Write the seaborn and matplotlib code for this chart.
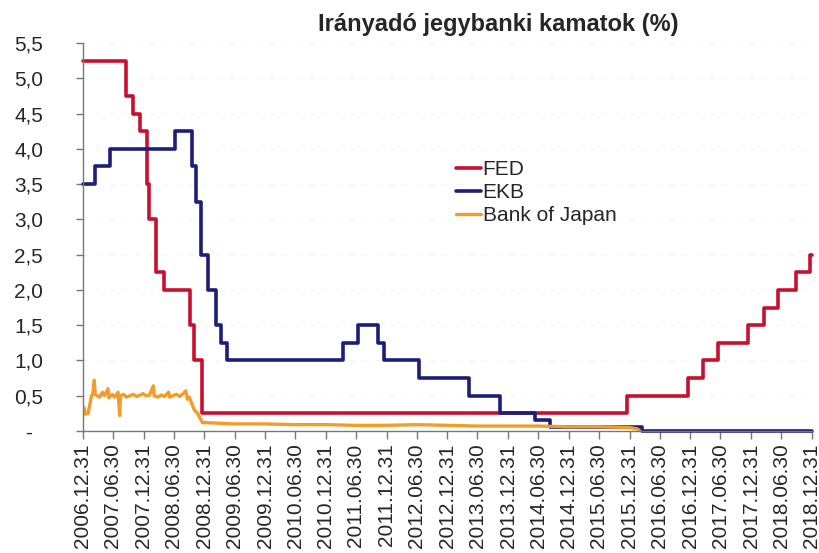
import numpy as np
import pandas as pd
import seaborn as sns
import matplotlib.pyplot as plt
import matplotlib.dates as mdates

sns.set_theme(style="white")
plt.rcParams['font.family'] = ['Liberation Sans', 'DejaVu Sans']

# FED policy rate (upper values), step changes
fed_dates = ["2006-12-31", "2007-09-18", "2007-10-31", "2007-12-11", "2008-01-22",
             "2008-01-30", "2008-03-18", "2008-04-30", "2008-10-08", "2008-10-29",
             "2008-12-16", "2015-12-16", "2016-12-14", "2017-03-15", "2017-06-14",
             "2017-12-13", "2018-03-21", "2018-06-13", "2018-09-26", "2018-12-19",
             "2018-12-31"]
fed_vals = [5.25, 4.75, 4.5, 4.25, 3.5, 3.0, 2.25, 2.0, 1.5, 1.0,
            0.25, 0.5, 0.75, 1.0, 1.25, 1.5, 1.75, 2.0, 2.25, 2.5, 2.5]

# EKB main refinancing rate
ekb_dates = ["2006-12-31", "2007-03-14", "2007-06-13", "2008-07-09", "2008-10-15",
             "2008-11-12", "2008-12-10", "2009-01-21", "2009-03-11", "2009-04-08",
             "2009-05-13", "2011-04-13", "2011-07-13", "2011-11-09", "2011-12-14",
             "2012-07-11", "2013-05-08", "2013-11-13", "2014-06-11", "2014-09-10",
             "2016-03-16", "2018-12-31"]
ekb_vals = [3.5, 3.75, 4.0, 4.25, 3.75, 3.25, 2.5, 2.0, 1.5, 1.25,
            1.0, 1.25, 1.5, 1.25, 1.0, 0.75, 0.5, 0.25, 0.15, 0.05, 0.0, 0.0]

# Bank of Japan overnight call rate
boj_dates = ["2006-12-31", "2007-01-08", "2007-01-15", "2007-02-01", "2007-02-21",
             "2007-03-01", "2007-03-10", "2007-03-15", "2007-04-10", "2007-04-28",
             "2007-05-10", "2007-05-31", "2007-06-05", "2007-06-25", "2007-07-10",
             "2007-07-31", "2007-08-10", "2007-08-14", "2007-09-01", "2007-09-20",
             "2007-10-10", "2007-10-30", "2007-11-20", "2007-12-10", "2007-12-28",
             "2008-01-15", "2008-02-05", "2008-02-28", "2008-03-04", "2008-03-25",
             "2008-04-15", "2008-05-05", "2008-05-30", "2008-06-05", "2008-06-25",
             "2008-07-15", "2008-08-05", "2008-08-25", "2008-09-10", "2008-09-20",
             "2008-10-01", "2008-10-31", "2008-11-20", "2008-12-19", "2009-03-31",
             "2009-06-30", "2009-12-31", "2010-06-30", "2010-12-31", "2011-06-30",
             "2011-12-31", "2012-06-30", "2012-12-31", "2013-06-30", "2013-12-31",
             "2014-06-30", "2014-12-31", "2015-06-30", "2015-12-31", "2016-02-15",
             "2016-03-01"]
boj_vals = [0.23, 0.33, 0.24, 0.25, 0.50,
            0.52, 0.72, 0.52, 0.48, 0.55,
            0.50, 0.60, 0.47, 0.52, 0.48,
            0.55, 0.22, 0.50, 0.52, 0.48,
            0.50, 0.52, 0.49, 0.51, 0.53,
            0.50, 0.51, 0.64, 0.50, 0.48,
            0.51, 0.49, 0.55, 0.48, 0.50,
            0.52, 0.49, 0.53, 0.57, 0.45,
            0.48, 0.30, 0.25, 0.12, 0.11,
            0.10, 0.10, 0.09, 0.09, 0.08,
            0.08, 0.09, 0.08, 0.07, 0.07,
            0.07, 0.06, 0.06, 0.05, 0.03,
            0.0]

y_ticks = [0, 0.5, 1.0, 1.5, 2.0, 2.5, 3.0, 3.5, 4.0, 4.5, 5.0, 5.5]
y_labels = ["-", "0,5", "1,0", "1,5", "2,0", "2,5", "3,0", "3,5", "4,0", "4,5", "5,0", "5,5"]

fed = pd.DataFrame({"date": pd.to_datetime(fed_dates), "rate": fed_vals})
ekb = pd.DataFrame({"date": pd.to_datetime(ekb_dates), "rate": ekb_vals})
boj = pd.DataFrame({"date": pd.to_datetime(boj_dates), "rate": boj_vals})

fig = plt.figure(figsize=(8.2, 5.53), dpi=100)
ax = fig.add_axes([0.101, 0.2206, 0.889, 0.7016])

sns.lineplot(data=fed, x="date", y="rate", ax=ax, color="#C8102E", linewidth=2.6,
             drawstyle="steps-post", label="FED", clip_on=False)
sns.lineplot(data=ekb, x="date", y="rate", ax=ax, color="#1B1F7A", linewidth=2.6,
             drawstyle="steps-post", label="EKB", clip_on=False)
sns.lineplot(data=boj, x="date", y="rate", ax=ax, color="#F39C27", linewidth=2.4,
             label="Bank of Japan")

ax.set_xlim(pd.Timestamp("2006-12-31"), pd.Timestamp("2018-12-31"))
ax.set_ylim(0, 5.5)

x_ticks = pd.date_range("2006-12-31", "2018-12-31", freq="6ME")
ax.set_xticks(x_ticks)
ax.xaxis.set_major_formatter(mdates.DateFormatter("%Y.%m.%d"))
plt.setp(ax.get_xticklabels(), rotation=90, ha="center", va="top", fontsize=15)

ax.set_yticks(y_ticks)
ax.set_yticklabels(y_labels, fontsize=15, ha="center")
ax.tick_params(axis="y", left=True, direction="out", length=5, width=1,
               color="#777777", pad=34)
ax.tick_params(axis="x", bottom=True, direction="out", length=6, width=1,
               color="#777777", pad=3)
ax.set_xlabel("")
ax.set_ylabel("")

for s in ["top", "right"]:
    ax.spines[s].set_visible(False)
for s in ["left", "bottom"]:
    ax.spines[s].set_color("#777777")
    ax.spines[s].set_linewidth(1)

ax.grid(axis="y", color="#eeeeee", linestyle=(0, (4, 12)), linewidth=0.6)

ax.legend(loc="upper left", bbox_to_anchor=(0.5, 0.72), frameon=False, fontsize=15,
          handlelength=1.2, handletextpad=0.1, labelspacing=0.2, borderaxespad=0)

fig.text(0.608, 0.955, "Irányadó jegybanki kamatok (%)", ha="center", va="center",
         fontsize=17, fontweight="bold")

fig.savefig("out.png", dpi=100)
